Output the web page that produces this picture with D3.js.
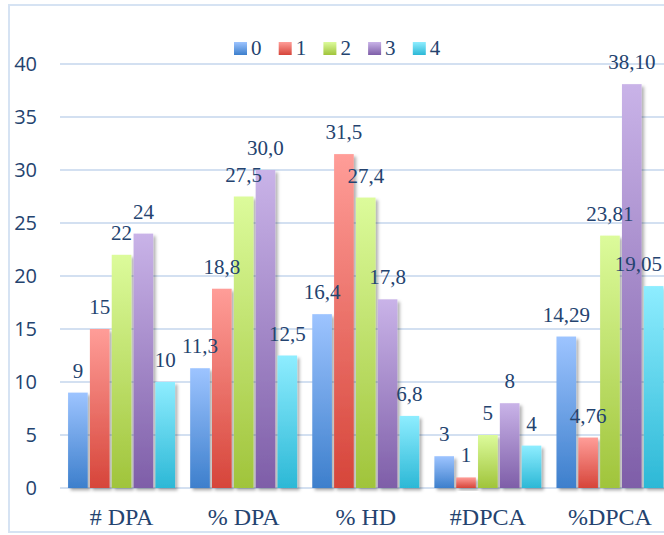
<!DOCTYPE html>
<html>
<head>
<meta charset="utf-8">
<script src="https://cdn.jsdelivr.net/npm/d3@7"></script>
<style>
  @font-face { font-family: "ChartSerif"; src: local("Liberation Serif"), local("LiberationSerif"), local("LiberationSerif-Regular"), local("Tinos"), local("Times New Roman"); }
  html, body { margin: 0; padding: 0; background: #ffffff; }
  svg { display: block; }
</style>
</head>
<body>
<div id="chart"></div>
<script>
// ---- data ----
const categories = ["# DPA", "% DPA", "% HD", "#DPCA", "%DPCA"];
const seriesNames = ["0", "1", "2", "3", "4"];
const series0 = [9, 11.3, 16.4, 3, 14.29];
const series1 = [15, 18.8, 31.5, 1, 4.76];
const series2 = [22, 27.5, 27.4, 5, 23.81];
const series3 = [24, 30.0, 17.8, 8, 38.10];
const series4 = [10, 12.5, 6.8, 4, 19.05];
const labels0 = ["9", "11,3", "16,4", "3", "14,29"];
const labels1 = ["15", "18,8", "31,5", "1", "4,76"];
const labels2 = ["22", "27,5", "27,4", "5", "23,81"];
const labels3 = ["24", "30,0", "17,8", "8", "38,10"];
const labels4 = ["10", "12,5", "6,8", "4", "19,05"];
const yTicks = [0, 5, 10, 15, 20, 25, 30, 35, 40];

const allSeries = [series0, series1, series2, series3, series4];
const allLabels = [labels0, labels1, labels2, labels3, labels4];

// ---- styles ----
const W = 664, H = 535;
const SERIF_STACK = '"Liberation Serif", "ChartSerif", Tinos, "Times New Roman", "DejaVu Serif"';
const SANS_STACK = '"Open Sans", "Noto Sans"';
const gradTop = ["#9dc4ff", "#ff9d98", "#dcfb9b", "#c9b3e8", "#8eedff"];
const gradBot = ["#3d7fcc", "#d6453a", "#a0c43b", "#7e5ea8", "#2cb8d6"];
const textColor = "#24436f";
const gridColor = "#d3e0f1";
const frameColor = "#d6e3f3";

const svg = d3.select("#chart").append("svg").attr("width", W).attr("height", H);

const defs = svg.append("defs");
seriesNames.forEach((s, i) => {
  const g = defs.append("linearGradient").attr("id", "g" + i)
    .attr("x1", 0).attr("y1", 0).attr("x2", 0).attr("y2", 1);
  g.append("stop").attr("offset", "0%").attr("stop-color", gradTop[i]);
  g.append("stop").attr("offset", "100%").attr("stop-color", gradBot[i]);
});
const f = defs.append("filter").attr("id", "shadow")
  .attr("x", "-30%").attr("y", "-10%").attr("width", "170%").attr("height", "130%");
f.append("feDropShadow").attr("dx", 2.5).attr("dy", 2.5).attr("stdDeviation", 1.8)
  .attr("flood-color", "#000").attr("flood-opacity", 0.3);

// frame
svg.append("path")
  .attr("d", `M${W + 2},5 L9,5 L9,532 L${W + 2},532`)
  .attr("fill", "none").attr("stroke", frameColor).attr("stroke-width", 2);

// scales
const y = d3.scaleLinear().domain([0, 40]).range([488, 64]);
const x0 = d3.scaleBand().domain(categories).range([60.5, 671])
  .paddingInner(0.124).paddingOuter(0.062);
const x1 = d3.scaleBand().domain(seriesNames).range([0, x0.bandwidth()]).paddingInner(0.1);

// grid
svg.append("g").selectAll("line").data(yTicks).join("line")
  .attr("x1", 60).attr("x2", W)
  .attr("y1", d => y(d)).attr("y2", d => y(d))
  .attr("stroke", gridColor).attr("stroke-width", 2);

// y axis labels (drawn directly as text, positioned by the scale)
svg.append("g").selectAll("text").data(yTicks).join("text")
  .attr("x", 37).attr("y", d => y(d)).attr("dy", "0.35em")
  .attr("text-anchor", "end")
  .style("font-family", SANS_STACK).style("font-size", "20px")
  .attr("fill", textColor)
  .text(d => d);

// x axis labels
svg.append("g").selectAll("text").data(categories).join("text")
  .attr("x", d => x0(d) + x0.bandwidth() / 2).attr("y", 525)
  .attr("text-anchor", "middle")
  .style("font-family", SERIF_STACK).style("font-size", "24px")
  .attr("fill", textColor)
  .text(d => d);

// bars
const groups = svg.append("g").selectAll("g").data(categories).join("g")
  .attr("transform", d => `translate(${x0(d)},0)`);

groups.each(function (cat, ci) {
  const rows = seriesNames.map((s, si) => ({ s, si, v: allSeries[si][ci] }));
  d3.select(this).selectAll("rect").data(rows).join("rect")
    .attr("x", d => x1(d.s))
    .attr("y", d => y(d.v))
    .attr("width", x1.bandwidth())
    .attr("height", d => y(0) - y(d.v))
    .attr("fill", d => `url(#g${d.si})`)
    .attr("filter", "url(#shadow)");
});

// value labels (clamped so they stay inside the frame; width estimated)
const labelRows = [];
categories.forEach((cat, ci) => {
  seriesNames.forEach((s, si) => {
    labelRows.push({ cat, s, v: allSeries[si][ci], txt: allLabels[si][ci] });
  });
});
svg.append("g").selectAll("text").data(labelRows).join("text")
  .attr("x", d => {
    const cx = x0(d.cat) + x1(d.s) + x1.bandwidth() / 2;
    const estW = d.txt.length * 10.5 - (d.txt.includes(",") ? 5 : 0);
    return Math.min(cx, W - 2 - estW / 2);
  })
  .attr("y", d => y(d.v) - 15)
  .attr("text-anchor", "middle")
  .style("font-family", SERIF_STACK).style("font-size", "21px")
  .attr("fill", textColor)
  .text(d => d.txt);

// legend
const legStart = 234, legStep = 44.7;
const legend = svg.append("g");
legend.selectAll("rect").data(seriesNames).join("rect")
  .attr("x", (s, i) => legStart + i * legStep).attr("y", 42)
  .attr("width", 13).attr("height", 13)
  .attr("fill", (s, i) => `url(#g${i})`);
legend.selectAll("text").data(seriesNames).join("text")
  .attr("x", (s, i) => legStart + i * legStep + 17).attr("y", 55)
  .style("font-family", SERIF_STACK).style("font-size", "21px")
  .attr("fill", textColor)
  .text(s => s);
</script>
</body>
</html>
